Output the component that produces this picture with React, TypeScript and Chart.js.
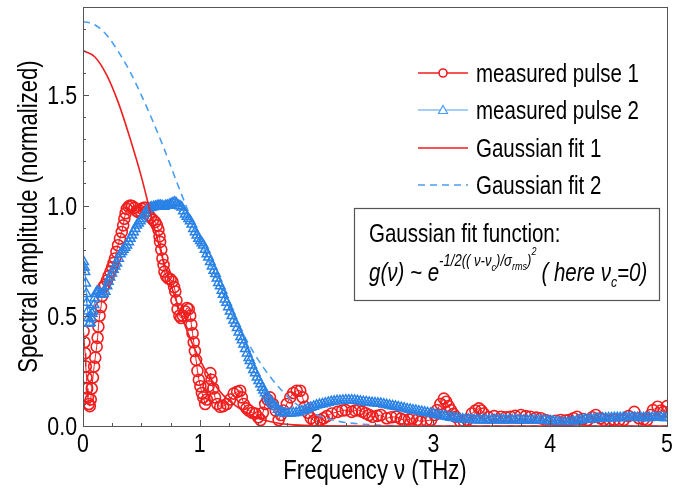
import React, { useEffect, useRef } from "react";
import { Chart, registerables } from "chart.js";
Chart.register(...registerables);

const SANS = "'Liberation Sans', Arimo, Arial, sans-serif";
const NARROW = 0.82;
const RED = "#f01e1e";
const BLUE = "#2a82e6";
const LIGHTBLUE = "#4a9ff2";

const xTickValues = [0, 1, 2, 3, 4, 5];
const xTickLabels = ["0", "1", "2", "3", "4", "5"];
const yTickValues = [0, 0.5, 1.0, 1.5];
const yTickLabels = ["0.0", "0.5", "1.0", "1.5"];
const xMinorTicks = [0.25, 0.5, 0.75, 1.25, 1.5, 1.75, 2.25, 2.5, 2.75, 3.25, 3.5, 3.75, 4.25, 4.5, 4.75];
const yMinorTicks = [0.1, 0.2, 0.3, 0.4, 0.6, 0.7, 0.8, 0.9, 1.1, 1.2, 1.3, 1.4, 1.6, 1.7, 1.8];

const xTitle = "Frequency ν (THz)";
const yTitle = "Spectral amplitude (normalized)";
const legendLabels = ["measured pulse 1", "measured pulse 2", "Gaussian fit 1", "Gaussian fit 2"];

// measured pulse 1 (red circles)
const pulse1X = [
  0.005, 0.012, 0.018, 0.024, 0.03, 0.036, 0.042, 0.05, 0.058, 0.066, 0.075, 0.085, 0.095, 0.105, 0.117, 0.125,
  0.132, 0.142, 0.154, 0.164, 0.174, 0.188, 0.205, 0.22, 0.235, 0.25, 0.262, 0.274, 0.286, 0.3, 0.316, 0.332,
  0.344, 0.354, 0.365, 0.375, 0.39, 0.405, 0.42, 0.44, 0.46, 0.475, 0.49, 0.505, 0.52, 0.535, 0.55, 0.565,
  0.58, 0.6, 0.617, 0.633, 0.646, 0.655, 0.66, 0.67, 0.68, 0.69, 0.697, 0.712, 0.73, 0.75, 0.766, 0.78,
  0.79, 0.8, 0.81, 0.825, 0.84, 0.855, 0.875, 0.89, 0.905, 0.918, 0.928, 0.938, 0.948, 0.958, 0.968, 0.98,
  0.992, 1.005, 1.018, 1.03, 1.046, 1.06, 1.075, 1.09, 1.1, 1.115, 1.13, 1.15, 1.175, 1.2, 1.23, 1.26,
  1.29, 1.32, 1.346, 1.36, 1.375, 1.4, 1.42, 1.45, 1.475, 1.5, 1.52, 1.54, 1.56, 1.58, 1.6, 1.625,
  1.65, 1.675, 1.695, 1.715, 1.745, 1.775, 1.8, 1.83, 1.86, 1.88, 1.9, 1.925, 1.95, 1.975, 2.0, 2.03,
  2.06, 2.09, 2.13, 2.18, 2.22, 2.25, 2.3, 2.33, 2.36, 2.39, 2.42, 2.45, 2.48, 2.52, 2.55, 2.6,
  2.64, 2.68, 2.72, 2.75, 2.79, 2.82, 2.86, 2.89, 2.94, 2.98, 3.01, 3.03, 3.06, 3.09, 3.11, 3.13,
  3.15, 3.17, 3.19, 3.23, 3.26, 3.29, 3.33, 3.36, 3.39, 3.41, 3.43, 3.47, 3.52, 3.58, 3.62, 3.66,
  3.7, 3.75, 3.79, 3.83, 3.88, 3.92, 3.96, 4.0, 4.05, 4.09, 4.13, 4.16, 4.2, 4.23, 4.28, 4.32,
  4.36, 4.39, 4.43, 4.46, 4.51, 4.55, 4.59, 4.63, 4.67, 4.72, 4.76, 4.8, 4.83, 4.86, 4.88, 4.92,
  4.95, 4.97, 5.0,
];
const pulse1Y = [
  0.43, 0.38, 0.33, 0.27, 0.22, 0.17, 0.13, 0.1, 0.09, 0.12, 0.17, 0.22, 0.27, 0.31, 0.36, 0.4,
  0.45, 0.5, 0.54, 0.59, 0.63, 0.64, 0.66, 0.68, 0.7, 0.72, 0.74, 0.76, 0.79, 0.82, 0.85, 0.88,
  0.91, 0.94, 0.965, 0.985, 0.995, 1.0, 0.998, 0.99, 0.975, 0.97, 0.975, 0.985, 0.99, 0.99, 0.975, 0.955,
  0.945, 0.935, 0.925, 0.91, 0.89, 0.86, 0.835, 0.8, 0.76, 0.73, 0.7, 0.68, 0.67, 0.665, 0.655, 0.63,
  0.61, 0.57, 0.53, 0.5, 0.49, 0.5, 0.52, 0.535, 0.53, 0.5, 0.46, 0.42, 0.38, 0.34, 0.3, 0.25,
  0.21, 0.18, 0.15, 0.13, 0.1, 0.12, 0.18, 0.24, 0.21, 0.17, 0.13, 0.1, 0.087, 0.09, 0.1, 0.12,
  0.147, 0.155, 0.16, 0.13, 0.1, 0.08, 0.07, 0.06, 0.057, 0.04, 0.027, 0.06, 0.1, 0.12, 0.13, 0.1,
  0.07, 0.027, 0.05, 0.07, 0.1, 0.13, 0.15, 0.16, 0.16, 0.13, 0.087, 0.06, 0.036, 0.025, 0.02, 0.027,
  0.035, 0.045, 0.057, 0.064, 0.07, 0.072, 0.064, 0.07, 0.072, 0.065, 0.058, 0.05, 0.042, 0.046, 0.05, 0.035,
  0.04, 0.042, 0.033, 0.027, 0.03, 0.035, 0.027, 0.02, 0.024, 0.027, 0.05, 0.072, 0.1, 0.124, 0.11, 0.09,
  0.072, 0.055, 0.042, 0.02, 0.022, 0.027, 0.057, 0.07, 0.08, 0.07, 0.057, 0.04, 0.045, 0.042, 0.04, 0.042,
  0.046, 0.05, 0.045, 0.042, 0.038, 0.035, 0.027, 0.02, 0.024, 0.027, 0.025, 0.027, 0.035, 0.042, 0.032, 0.027,
  0.04, 0.05, 0.035, 0.027, 0.025, 0.027, 0.026, 0.027, 0.045, 0.064, 0.035, 0.03, 0.027, 0.05, 0.072, 0.087,
  0.07, 0.064, 0.09,
];

// measured pulse 2 (blue triangles)
const pulse2X = [
  0.005, 0.012, 0.017, 0.023, 0.028, 0.033, 0.04, 0.047, 0.055, 0.062, 0.07, 0.078, 0.088, 0.095, 0.1, 0.11,
  0.12, 0.131, 0.145, 0.16, 0.175, 0.19, 0.205, 0.217, 0.23, 0.246, 0.26, 0.275, 0.289, 0.305, 0.32, 0.332,
  0.345, 0.36, 0.375, 0.39, 0.405, 0.418, 0.432, 0.446, 0.46, 0.475, 0.49, 0.503, 0.518, 0.532, 0.546, 0.56,
  0.575, 0.589, 0.605, 0.62, 0.635, 0.65, 0.665, 0.68, 0.695, 0.71, 0.725, 0.74, 0.755, 0.77, 0.785, 0.8,
  0.815, 0.83, 0.846, 0.86, 0.875, 0.89, 0.905, 0.918, 0.932, 0.946, 0.96, 0.975, 0.99, 1.005, 1.018, 1.03,
  1.045, 1.06, 1.075, 1.09, 1.105, 1.12, 1.135, 1.147, 1.16, 1.175, 1.19, 1.2, 1.215, 1.23, 1.245, 1.26,
  1.275, 1.29, 1.305, 1.32, 1.335, 1.35, 1.362, 1.375, 1.39, 1.405, 1.42, 1.43, 1.445, 1.46, 1.475, 1.49,
  1.505, 1.52, 1.535, 1.546, 1.56, 1.575, 1.59, 1.6, 1.615, 1.63, 1.65, 1.67, 1.69, 1.71, 1.73, 1.75,
  1.775, 1.8, 1.825, 1.85, 1.875, 1.9, 1.925, 1.95, 1.975, 2.0, 2.025, 2.05, 2.075, 2.1, 2.125, 2.15,
  2.175, 2.2, 2.225, 2.25, 2.275, 2.3, 2.325, 2.35, 2.375, 2.4, 2.425, 2.45, 2.475, 2.5, 2.525, 2.55,
  2.575, 2.6, 2.625, 2.65, 2.675, 2.7, 2.725, 2.75, 2.775, 2.8, 2.825, 2.85, 2.875, 2.9, 2.925, 2.95,
  2.975, 3.0, 3.025, 3.05, 3.075, 3.1, 3.125, 3.15, 3.175, 3.2, 3.225, 3.25, 3.275, 3.3, 3.325, 3.35,
  3.375, 3.4, 3.425, 3.45, 3.475, 3.5, 3.525, 3.55, 3.575, 3.6, 3.625, 3.65, 3.675, 3.7, 3.725, 3.75,
  3.775, 3.8, 3.825, 3.85, 3.875, 3.9, 3.925, 3.95, 3.975, 4.0, 4.025, 4.05, 4.075, 4.1, 4.125, 4.15,
  4.175, 4.2, 4.225, 4.25, 4.275, 4.3, 4.325, 4.35, 4.375, 4.4, 4.425, 4.45, 4.475, 4.5, 4.525, 4.55,
  4.575, 4.6, 4.625, 4.65, 4.675, 4.7, 4.725, 4.75, 4.775, 4.8, 4.825, 4.85, 4.875, 4.9, 4.925, 4.95,
  4.975, 5.0,
];
const pulse2Y = [
  0.745, 0.72, 0.7, 0.648, 0.6, 0.56, 0.52, 0.49, 0.465, 0.47, 0.49, 0.51, 0.52, 0.55, 0.58, 0.6,
  0.61, 0.61, 0.6, 0.596, 0.6, 0.61, 0.635, 0.655, 0.675, 0.693, 0.71, 0.725, 0.738, 0.76, 0.78, 0.79,
  0.8, 0.81, 0.82, 0.835, 0.85, 0.865, 0.88, 0.895, 0.91, 0.92, 0.93, 0.94, 0.955, 0.965, 0.978, 0.985,
  0.99, 0.992, 0.995, 0.996, 0.998, 1.0, 1.0, 0.998, 0.996, 1.0, 1.0, 1.003, 1.008, 1.012, 1.015, 1.01,
  1.0, 0.998, 0.992, 0.975, 0.96, 0.95, 0.94, 0.93, 0.915, 0.895, 0.88, 0.865, 0.85, 0.84, 0.83, 0.82,
  0.8, 0.78, 0.765, 0.745, 0.725, 0.705, 0.69, 0.67, 0.65, 0.635, 0.615, 0.596, 0.575, 0.56, 0.54, 0.52,
  0.5, 0.48, 0.465, 0.446, 0.425, 0.405, 0.39, 0.371, 0.35, 0.33, 0.31, 0.296, 0.275, 0.255, 0.24, 0.221,
  0.205, 0.19, 0.175, 0.162, 0.15, 0.138, 0.125, 0.117, 0.105, 0.097, 0.087, 0.075, 0.064, 0.06, 0.058, 0.057,
  0.058, 0.059, 0.06, 0.063, 0.068, 0.073, 0.079, 0.084, 0.089, 0.094, 0.097, 0.1, 0.103, 0.107, 0.11, 0.112,
  0.114, 0.115, 0.116, 0.117, 0.117, 0.117, 0.116, 0.114, 0.112, 0.11, 0.109, 0.107, 0.105, 0.104, 0.103, 0.102,
  0.099, 0.096, 0.094, 0.091, 0.089, 0.086, 0.083, 0.08, 0.077, 0.075, 0.072, 0.07, 0.067, 0.065, 0.062, 0.06,
  0.057, 0.055, 0.052, 0.049, 0.047, 0.044, 0.042, 0.039, 0.037, 0.035, 0.033, 0.031, 0.03, 0.029, 0.028, 0.028,
  0.027, 0.027, 0.027, 0.027, 0.027, 0.027, 0.027, 0.027, 0.027, 0.027, 0.027, 0.027, 0.027, 0.027, 0.027, 0.026,
  0.026, 0.026, 0.026, 0.026, 0.026, 0.025, 0.025, 0.025, 0.024, 0.023, 0.021, 0.019, 0.017, 0.016, 0.015, 0.016,
  0.018, 0.02, 0.023, 0.026, 0.028, 0.029, 0.03, 0.031, 0.032, 0.033, 0.034, 0.035, 0.035, 0.036, 0.036, 0.037,
  0.037, 0.037, 0.037, 0.038, 0.038, 0.038, 0.038, 0.037, 0.037, 0.037, 0.037, 0.037, 0.038, 0.038, 0.038, 0.038,
  0.037, 0.037,
];

// Gaussian fit 1 (red solid)
const fit1X = [0, 0.1, 0.2, 0.3, 0.4, 0.5, 0.6, 0.7, 0.8, 0.9, 1.0, 1.1, 1.2, 1.3, 1.4, 1.5, 1.6, 1.7, 1.8, 2.0, 2.5, 3, 4, 5];
const fit1Y = [1.703, 1.675, 1.595, 1.47, 1.31, 1.13, 0.92, 0.73, 0.565, 0.42, 0.3, 0.21, 0.14, 0.095, 0.06, 0.035, 0.02, 0.01, 0.005, 0.001, 0, 0, 0, 0];

// Gaussian fit 2 (blue dashed)
const fit2X = [0, 0.1, 0.2, 0.3, 0.4, 0.5, 0.6, 0.7, 0.8, 0.9, 1.0, 1.1, 1.2, 1.3, 1.4, 1.5, 1.6, 1.7, 1.8, 1.9, 2.0, 2.2, 2.5, 3, 4, 5];
const fit2Y = [1.835, 1.82, 1.775, 1.7, 1.61, 1.5, 1.38, 1.25, 1.11, 0.975, 0.845, 0.72, 0.6, 0.49, 0.39, 0.3, 0.225, 0.162, 0.11, 0.075, 0.05, 0.02, 0.005, 0, 0, 0];

const pts = (xs: number[], ys: number[]) => xs.map((x, i) => ({ x, y: ys[i] }));

// narrow-style text: Arial metrics squeezed horizontally
function drawText(
  ctx: CanvasRenderingContext2D,
  s: string,
  x: number,
  y: number,
  size: number,
  align: CanvasTextAlign = "left",
  baseline: CanvasTextBaseline = "alphabetic",
  italic = false,
  rotate = false
) {
  ctx.save();
  ctx.translate(x, y);
  if (rotate) ctx.rotate(-Math.PI / 2);
  ctx.scale(NARROW, 1);
  ctx.font = `${italic ? "italic " : ""}${size}px ${SANS}`;
  ctx.textAlign = align;
  ctx.textBaseline = baseline;
  ctx.fillStyle = "#000";
  ctx.fillText(s, 0, 0);
  const w = ctx.measureText(s).width * NARROW;
  ctx.restore();
  return w;
}

const decorPlugin = {
  id: "decor",
  afterDraw(chart: any) {
    const { ctx, chartArea } = chart;
    const xs = chart.scales.x;
    const ys = chart.scales.y;
    const { left, right, top, bottom } = chartArea;
    ctx.save();
    // frame
    ctx.strokeStyle = "#555";
    ctx.lineWidth = 1;
    ctx.strokeRect(Math.round(left) + 0.5, Math.round(top) + 0.5, Math.round(right - left), Math.round(bottom - top));
    // inward ticks
    ctx.beginPath();
    xTickValues.forEach((v) => {
      const px = Math.round(xs.getPixelForValue(v)) + 0.5;
      ctx.moveTo(px, bottom);
      ctx.lineTo(px, bottom - 6);
    });
    xMinorTicks.forEach((v) => {
      const px = Math.round(xs.getPixelForValue(v)) + 0.5;
      ctx.moveTo(px, bottom);
      ctx.lineTo(px, bottom - 3);
    });
    yTickValues.forEach((v) => {
      const py = Math.round(ys.getPixelForValue(v)) + 0.5;
      ctx.moveTo(left, py);
      ctx.lineTo(left + 6, py);
    });
    yMinorTicks.forEach((v) => {
      const py = Math.round(ys.getPixelForValue(v)) + 0.5;
      ctx.moveTo(left, py);
      ctx.lineTo(left + 3, py);
    });
    ctx.stroke();

    // tick labels
    xTickValues.forEach((v, i) => {
      drawText(ctx, xTickLabels[i], xs.getPixelForValue(v), bottom + 26, 26, "center");
    });
    yTickValues.forEach((v, i) => {
      drawText(ctx, yTickLabels[i], left - 6, ys.getPixelForValue(v) + 9, 26, "right");
    });
    // axis titles
    drawText(ctx, xTitle, (left + right) / 2, 479, 27, "center");
    drawText(ctx, yTitle, 37, (top + bottom) / 2, 27, "center", "alphabetic", false, true);

    // legend
    const lx0 = 418, lx1 = 468, tx = 476;
    const rows = [73, 110, 148, 185];
    rows.forEach((ry, i) => {
      ctx.save();
      ctx.lineWidth = i === 1 ? 1.2 : 1.6;
      ctx.strokeStyle = i % 2 === 0 ? RED : LIGHTBLUE;
      if (i === 3) ctx.setLineDash([7, 5]);
      ctx.beginPath();
      ctx.moveTo(lx0, ry);
      ctx.lineTo(lx1, ry);
      ctx.stroke();
      ctx.setLineDash([]);
      const mx = (lx0 + lx1) / 2;
      if (i === 0) {
        ctx.fillStyle = "#fff";
        ctx.beginPath();
        ctx.arc(mx, ry, 4, 0, Math.PI * 2);
        ctx.fill();
        ctx.stroke();
      } else if (i === 1) {
        ctx.fillStyle = "#fff";
        ctx.beginPath();
        ctx.moveTo(mx, ry - 4.5);
        ctx.lineTo(mx + 4.5, ry + 3.5);
        ctx.lineTo(mx - 4.5, ry + 3.5);
        ctx.closePath();
        ctx.fill();
        ctx.stroke();
      }
      ctx.restore();
      drawText(ctx, legendLabels[i], tx, ry + 9, 25);
    });

    // formula box
    const bx = 354.5, by = 208.5, bw = 305, bh = 92;
    ctx.fillStyle = "#fff";
    ctx.fillRect(bx, by, bw, bh);
    ctx.strokeStyle = "#555";
    ctx.lineWidth = 1.2;
    ctx.strokeRect(bx, by, bw, bh);
    drawText(ctx, "Gaussian fit function:", 369, 242, 25);

    let cx = 369;
    const baseY = 281;
    const put = (text: string, size: number, dy: number) => {
      cx += drawText(ctx, text, cx, baseY + dy, size, "left", "alphabetic", true);
    };
    put("g(ν) ~ e", 25, 0);
    put("-1/2(( ν-ν", 16, -15);
    put("c", 11, -10);
    put(")/σ", 16, -15);
    put("rms", 11, -11);
    put(")", 16, -15);
    put("2", 11, -26);
    cx += 5;
    put("( here ν", 25, 0);
    put("c", 15, 6);
    put("=0)", 25, 0);
    ctx.restore();
  },
};

export default function App() {
  const ref = useRef<HTMLCanvasElement>(null);
  useEffect(() => {
    const canvas = ref.current!;
    const chart = new Chart(canvas, {
      type: "scatter",
      data: {
        datasets: [
          {
            label: "Gaussian fit 1",
            data: pts(fit1X, fit1Y),
            showLine: true,
            borderColor: RED,
            borderWidth: 1.6,
            pointRadius: 0,
            cubicInterpolationMode: "monotone",
            order: 0,
          },
          {
            label: "measured pulse 2",
            data: pts(pulse2X, pulse2Y),
            showLine: true,
            borderColor: BLUE,
            borderWidth: 1,
            pointStyle: "triangle",
            pointRadius: 5.5,
            pointBorderColor: BLUE,
            pointBackgroundColor: "rgba(255,255,255,0)",
            pointBorderWidth: 1.5,
            order: 1,
          },
          {
            label: "Gaussian fit 2",
            data: pts(fit2X, fit2Y),
            showLine: true,
            borderColor: LIGHTBLUE,
            borderWidth: 1.6,
            borderDash: [7, 5],
            pointRadius: 0,
            cubicInterpolationMode: "monotone",
            order: 2,
          },
          {
            label: "measured pulse 1",
            data: pts(pulse1X, pulse1Y),
            showLine: true,
            borderColor: RED,
            borderWidth: 1,
            pointStyle: "circle",
            pointRadius: 5.5,
            pointBorderColor: RED,
            pointBackgroundColor: "rgba(255,255,255,0)",
            pointBorderWidth: 1.6,
            order: 3,
          },
        ] as any,
      },
      options: {
        responsive: false,
        animation: false,
        events: [],
        layout: { padding: { left: 0, top: 1, right: 23, bottom: 0 } },
        plugins: { legend: { display: false }, tooltip: { enabled: false } },
        scales: {
          x: {
            type: "linear",
            min: 0,
            max: 5,
            afterBuildTicks: (s: any) => {
              s.ticks = xTickValues.map((v) => ({ value: v }));
            },
            afterFit: (s: any) => {
              s.height = 63;
            },
            grid: { display: false, drawTicks: false },
            border: { display: false },
            ticks: { display: false },
            title: { display: false },
          },
          y: {
            type: "linear",
            min: 0,
            max: 1.9,
            afterBuildTicks: (s: any) => {
              s.ticks = yTickValues.map((v) => ({ value: v }));
            },
            afterFit: (s: any) => {
              s.width = 83;
            },
            grid: { display: false, drawTicks: false },
            border: { display: false },
            ticks: { display: false },
            title: { display: false },
          },
        },
      } as any,
      plugins: [decorPlugin],
    });
    return () => chart.destroy();
  }, []);
  return (
    <div style={{ position: "absolute", left: 0, top: 0, width: 690, height: 489, background: "#fff" }}>
      <canvas ref={ref} width={690} height={489} style={{ display: "block" }} />
    </div>
  );
}
